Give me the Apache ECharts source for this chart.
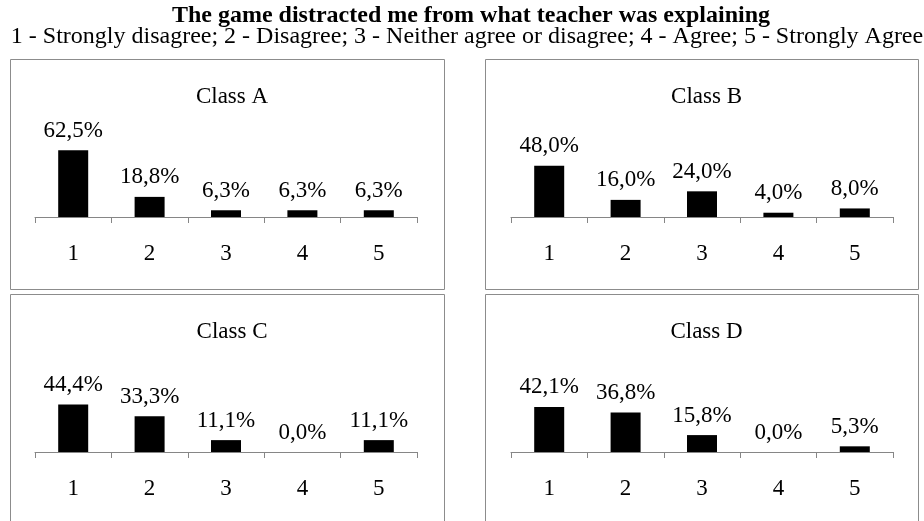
<!DOCTYPE html>
<html>
<head>
<meta charset="utf-8">
<script src="https://cdn.jsdelivr.net/npm/echarts@6/dist/echarts.min.js"></script>
<style>
html,body{margin:0;padding:0;background:#fff;}
#main{width:924px;height:521px;}
</style>
</head>
<body>
<div id="main"></div>
<script>
var categories = ['1', '2', '3', '4', '5'];
var classNames = ['Class A', 'Class B', 'Class C', 'Class D'];
var classA = [62.5, 18.8, 6.3, 6.3, 6.3];
var classB = [48.0, 16.0, 24.0, 4.0, 8.0];
var classC = [44.4, 33.3, 11.1, 0.0, 11.1];
var classD = [42.1, 36.8, 15.8, 0.0, 5.3];
var allData = [classA, classB, classC, classD];

var font = '"Liberation Serif", "Times New Roman", serif';
// panel boxes: left, top, width, height
var boxes = [[10, 59, 434, 230], [485, 59, 433, 230], [10, 294, 434, 240], [485, 294, 433, 240]];
var grids = [], xAxes = [], yAxes = [], series = [], titles = [], rects = [];

titles.push({
	text: 'The game distracted me from what teacher was explaining',
	left: 466, top: -1, textAlign: 'center',
	textStyle: {fontFamily: font, fontSize: 24, fontWeight: 'bold', color: '#000', lineHeight: 24}
});
titles.push({
	text: '1 - Strongly disagree; 2 - Disagree; 3 - Neither agree or disagree; 4 - Agree; 5 - Strongly Agree',
	left: 462, top: 20, textAlign: 'center',
	textStyle: {fontFamily: font, fontSize: 24, fontWeight: 'normal', color: '#000', lineHeight: 24}
});

for (var i = 0; i < 4; i++) {
	var b = boxes[i];
	rects.push({
		type: 'rect', silent: true,
		shape: {x: b[0] + 0.5, y: b[1] + 0.5, width: b[2], height: b[3]},
		style: {fill: 'none', stroke: '#8c8c8c', lineWidth: 1}
	});
	titles.push({
		text: classNames[i],
		left: b[0] + b[2] / 2, top: b[1] + 21, textAlign: 'center',
		textStyle: {fontFamily: font, fontSize: 23, fontWeight: 'normal', color: '#000'}
	});
	var gx = (i % 2 == 0) ? 35 : 511;
	var gy = (i < 2) ? 110 : 345;
	grids.push({left: gx, top: gy, width: 382, height: 107});
	xAxes.push({
		type: 'category', gridIndex: i, data: categories,
		axisLine: {lineStyle: {color: '#868686', width: 1}},
		axisTick: {show: true, length: 6, alignWithLabel: false, lineStyle: {color: '#868686'}},
		axisLabel: {margin: 25, fontFamily: font, fontSize: 23, color: '#000'}
	});
	yAxes.push({type: 'value', gridIndex: i, min: 0, max: 100, show: false});
	series.push({
		type: 'bar', xAxisIndex: i, yAxisIndex: i,
		data: allData[i], barWidth: 30,
		itemStyle: {color: '#000'},
		label: {
			show: true, position: 'top', distance: 8,
			fontFamily: font, fontSize: 23, color: '#000',
			formatter: function (p) { return p.value.toFixed(1).replace('.', ',') + '%'; }
		}
	});
}

var myChart = echarts.init(document.getElementById('main'));
myChart.setOption({
	backgroundColor: '#fff',
	animation: false,
	title: titles,
	grid: grids,
	xAxis: xAxes,
	yAxis: yAxes,
	series: series,
	graphic: rects
});
</script>
</body>
</html>
